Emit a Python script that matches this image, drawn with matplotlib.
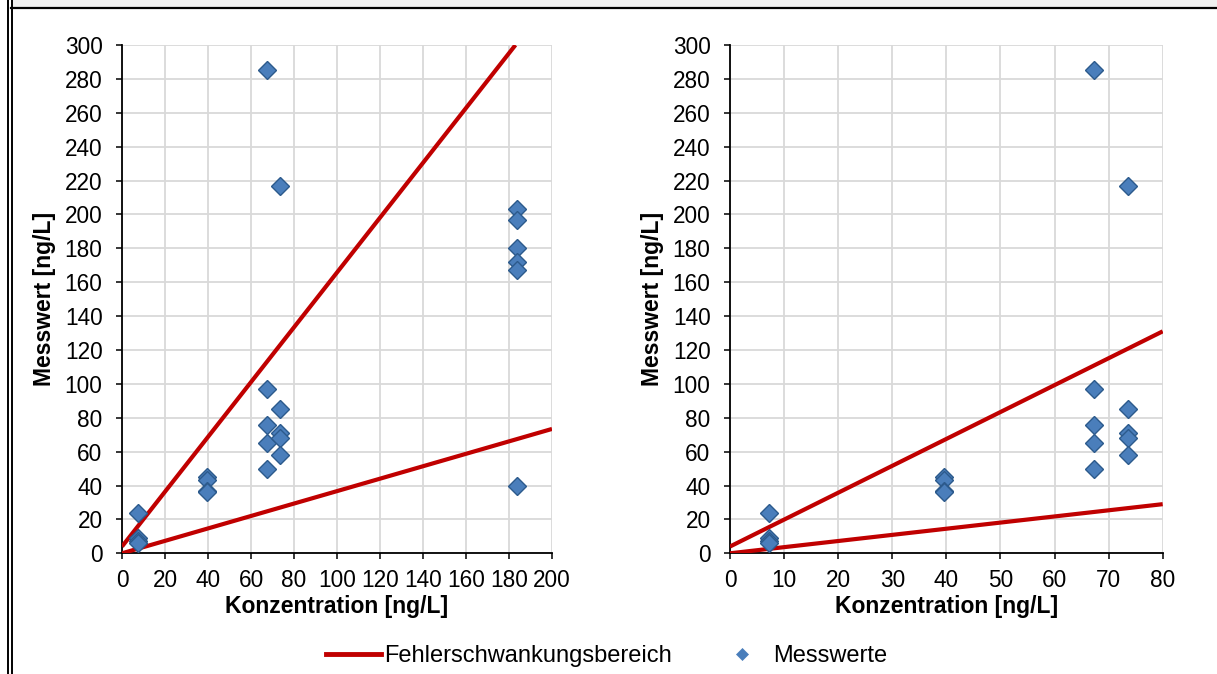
import matplotlib
matplotlib.use("Agg")
import matplotlib.pyplot as plt
from matplotlib.lines import Line2D
from matplotlib.patches import Rectangle

W, H = 1217, 674

# Messwerte (ng/L), gelesen aus der Vorlage
konzentration = [7.3, 7.3, 7.3, 7.3,
                 39.5, 39.5, 39.5, 39.5,
                 67.3, 67.3, 67.3, 67.3, 67.3,
                 73.5, 73.5, 73.5, 73.5, 73.5,
                 183.5, 183.5, 183.5, 183.5, 183.5, 183.5]
messwert = [24, 9, 7, 6,
            45, 43, 37, 36,
            285, 97, 76, 65, 50,
            217, 85, 71, 68, 58,
            203, 197, 180, 172, 167, 40]

# Fehlerschwankungsbereich: Ober- und Untergrenze je Diagramm
grenze_x_links = [0, 183]
grenze_oben_links = [4, 300]
grenze_u_x_links = [0, 200]
grenze_unten_links = [0, 73.4]

grenze_x_rechts = [0, 80]
grenze_oben_rechts = [4, 131]
grenze_unten_rechts = [0, 29]

RED = "#C00000"
FILL = "#4A7EBB"
EDGE = "#2C5A8C"
GRID = "#D9D9D9"

plt.rcParams["font.family"] = ["Liberation Sans", "DejaVu Sans"]

fig = plt.figure(figsize=(W / 100, H / 100), dpi=100)


def px_ax(x0, x1, y0, y1):
    return fig.add_axes([x0 / W, 1 - y1 / H, (x1 - x0) / W, (y1 - y0) / H])


def style_axes(ax, xmax, xstep):
    ax.set_xlim(0, xmax)
    ax.set_ylim(0, 300)
    ax.set_xticks(range(0, xmax + 1, xstep))
    ax.set_yticks(range(0, 301, 20))
    ax.grid(True, color=GRID, lw=1.3, zorder=0)
    ax.set_axisbelow(True)
    for s in ["top", "right"]:
        ax.spines[s].set_visible(False)
    for s in ["left", "bottom"]:
        ax.spines[s].set_linewidth(1.3)
        ax.spines[s].set_zorder(1)
    ax.tick_params(axis="both", direction="out", length=4.5, width=1.1,
                   labelsize=16.3, colors="black")
    ax.tick_params(axis="y", pad=9.5)
    ax.tick_params(axis="x", pad=6.5)
    ax.set_xlabel("Konzentration [ng/L]", fontsize=16.5, fontweight="bold", va="center")
    ax.set_ylabel("Messwert [ng/L]", fontsize=16.5, fontweight="bold", va="center")
    ax.xaxis.set_label_coords(0.5, -0.105)
    ax.yaxis.set_label_coords(-0.18, 0.5)


def draw_panel(ax, gx_o, go, gx_u, gu):
    ax.plot(gx_o, go, color=RED, lw=3, solid_capstyle="butt", zorder=2)
    ax.plot(gx_u, gu, color=RED, lw=3, solid_capstyle="butt", zorder=2)
    ax.plot(konzentration, messwert, ls="none", marker="D", ms=9,
            mfc=FILL, mec=EDGE, mew=1.0, zorder=3)


ax1 = px_ax(122, 552, 45, 553.3)
draw_panel(ax1, grenze_x_links, grenze_oben_links, grenze_u_x_links, grenze_unten_links)
style_axes(ax1, 200, 20)

ax2 = px_ax(730, 1162.7, 45, 553.3)
draw_panel(ax2, grenze_x_rechts, grenze_oben_rechts, grenze_x_rechts, grenze_unten_rechts)
style_axes(ax2, 80, 10)

# Legende
handles = [
    Line2D([], [], color=RED, lw=3.5),
    Line2D([], [], ls="none", marker="D", ms=9, mfc=FILL, mec=FILL, mew=0.5),
]
fig.legend(handles, ["Fehlerschwankungsbereich", "Messwerte"],
           loc="center", bbox_to_anchor=(606.5 / W, 1 - 656 / H),
           ncol=2, frameon=False, fontsize=17, handlelength=2.33,
           handletextpad=0.13, columnspacing=1.82, markerscale=0.7)

# Rahmen wie im Original-Ausschnitt
fig.add_artist(Rectangle((12 / W, 1 - 6.5 / H), 1, 6.5 / H,
                         transform=fig.transFigure, color="#F0F0F0", lw=0))
fig.add_artist(Line2D([11 / W, 1], [1 - 7.6 / H, 1 - 7.6 / H],
                      transform=fig.transFigure, color="black", lw=1.6))
for xp in (8.2, 11.8):
    fig.add_artist(Line2D([xp / W, xp / W], [0, 1],
                          transform=fig.transFigure, color="black", lw=1.4))

fig.savefig("out.png", dpi=100)
